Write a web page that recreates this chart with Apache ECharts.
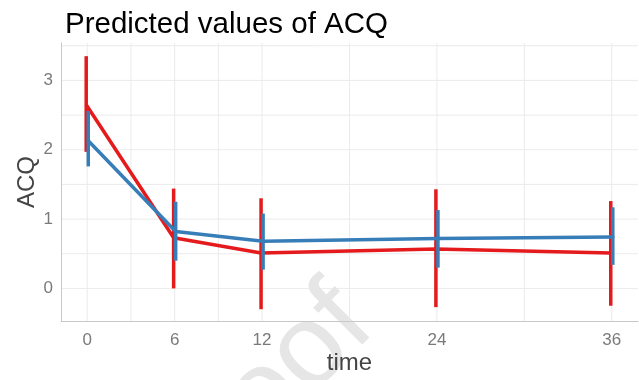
<!DOCTYPE html>
<html>
<head>
<meta charset="utf-8">
<script src="https://cdn.jsdelivr.net/npm/echarts@6/dist/echarts.min.js"></script>
<style>html,body{margin:0;padding:0;background:#fff}#c{width:639px;height:380px}</style>
</head>
<body>
<div id="c"></div>
<script>
const times = [0, 6, 12, 24, 36];
const redFit = [2.65, 0.73, 0.51, 0.57, 0.51];
const redLow = [1.97, 0.00, -0.30, -0.27, -0.25];
const redHigh = [3.35, 1.44, 1.30, 1.43, 1.26];
const blueFit = [2.13, 0.82, 0.68, 0.72, 0.74];
const blueLow = [1.76, 0.40, 0.27, 0.30, 0.34];
const blueHigh = [2.56, 1.25, 1.08, 1.13, 1.17];
const xTickLabels = [0, 6, 12, 24, 36];
const yTickLabels = [0, 1, 2, 3];
const xGridValues = [0, 3, 6, 9, 12, 18, 24, 30, 36];
const yGridValues = [0, 0.5, 1, 1.5, 2, 2.5, 3, 3.5];

const X_MIN = -1.8, X_MAX = 37.8, Y_MIN = -0.47, Y_MAX = 3.54;
const DODGE = 0.07;
const RED = '#E41A1C', BLUE = '#377EB8';
const FONT = 'Liberation Sans, Arial, sans-serif';

function lineData(fit, off) { return times.map((t, i) => [t + off, fit[i]]); }
function barData(low, high, off) { return times.map((t, i) => [t + off, low[i], high[i]]); }

function errRender(color) {
  return function (params, api) {
    const p1 = api.coord([api.value(0), api.value(1)]);
    const p2 = api.coord([api.value(0), api.value(2)]);
    return { type: 'line', shape: { x1: p1[0], y1: p1[1], x2: p2[0], y2: p2[1] },
      style: { stroke: color, lineWidth: 3.5 } };
  };
}

const chart = echarts.init(document.getElementById('c'), null, { renderer: 'canvas' });
chart.setOption({
  animation: false,
  backgroundColor: '#fff',
  title: {
    text: 'Predicted values of ACQ', left: 60, top: 5,
    textStyle: { fontFamily: FONT, fontSize: 29.5, fontWeight: 'normal', color: '#000' }
  },
  grid: { left: 61, right: 1, top: 43, bottom: 56, containLabel: false },
  xAxis: {
    type: 'value', min: X_MIN, max: X_MAX, z: 2,
    name: 'time', nameLocation: 'middle', nameGap: 30, nameMoveOverlap: false,
    nameTextStyle: { fontFamily: FONT, fontSize: 24, color: '#444' },
    axisLine: { show: true, onZero: false, lineStyle: { color: '#c8c8c8', width: 1 } },
    axisTick: { show: false },
    splitLine: { show: false },
    axisLabel: { customValues: xTickLabels, fontFamily: FONT, fontSize: 17, color: '#7a7a7a', margin: 11 }
  },
  yAxis: {
    type: 'value', min: Y_MIN, max: Y_MAX, z: 2,
    name: 'ACQ', nameLocation: 'middle', nameGap: 22, nameMoveOverlap: false,
    nameTextStyle: { fontFamily: FONT, fontSize: 24, color: '#444' },
    axisLine: { show: true, onZero: false, lineStyle: { color: '#c8c8c8', width: 1 } },
    axisTick: { show: false },
    splitLine: { show: false },
    axisLabel: { customValues: yTickLabels, fontFamily: FONT, fontSize: 17, color: '#7a7a7a', margin: 8 }
  },
  graphic: [{
    type: 'text', x: 258, y: 404, rotation: Math.PI / 4, z: 1, silent: true,
    style: { text: 'Proof', fontFamily: FONT, fontSize: 115, fill: '#e6e6e6', align: 'center', verticalAlign: 'middle' }
  }],
  series: [
    { type: 'custom', z: 0, silent: true, data: xGridValues.map(v => [v]),
      renderItem: function (params, api) {
        const a = api.coord([api.value(0), Y_MIN]), b = api.coord([api.value(0), Y_MAX]);
        return { type: 'line', shape: { x1: a[0], y1: a[1], x2: b[0], y2: b[1] }, style: { stroke: '#ebebeb', lineWidth: 1 } };
      } },
    { type: 'custom', z: 0, silent: true, data: yGridValues.map(v => [X_MIN, v]),
      renderItem: function (params, api) {
        const a = api.coord([X_MIN, api.value(1)]), b = api.coord([X_MAX, api.value(1)]);
        return { type: 'line', shape: { x1: a[0], y1: a[1], x2: b[0], y2: b[1] }, style: { stroke: '#ebebeb', lineWidth: 1 } };
      } },
    { type: 'line', z: 3, data: lineData(redFit, -DODGE), showSymbol: false, symbol: 'none',
      lineStyle: { color: RED, width: 3.5 } },
    { type: 'custom', z: 3, data: barData(redLow, redHigh, -DODGE), renderItem: errRender(RED) },
    { type: 'line', z: 4, data: lineData(blueFit, DODGE), showSymbol: false, symbol: 'none',
      lineStyle: { color: BLUE, width: 3.5, cap: 'round' } },
    { type: 'custom', z: 4, data: barData(blueLow, blueHigh, DODGE), renderItem: errRender(BLUE) }
  ]
});
</script>
</body>
</html>
